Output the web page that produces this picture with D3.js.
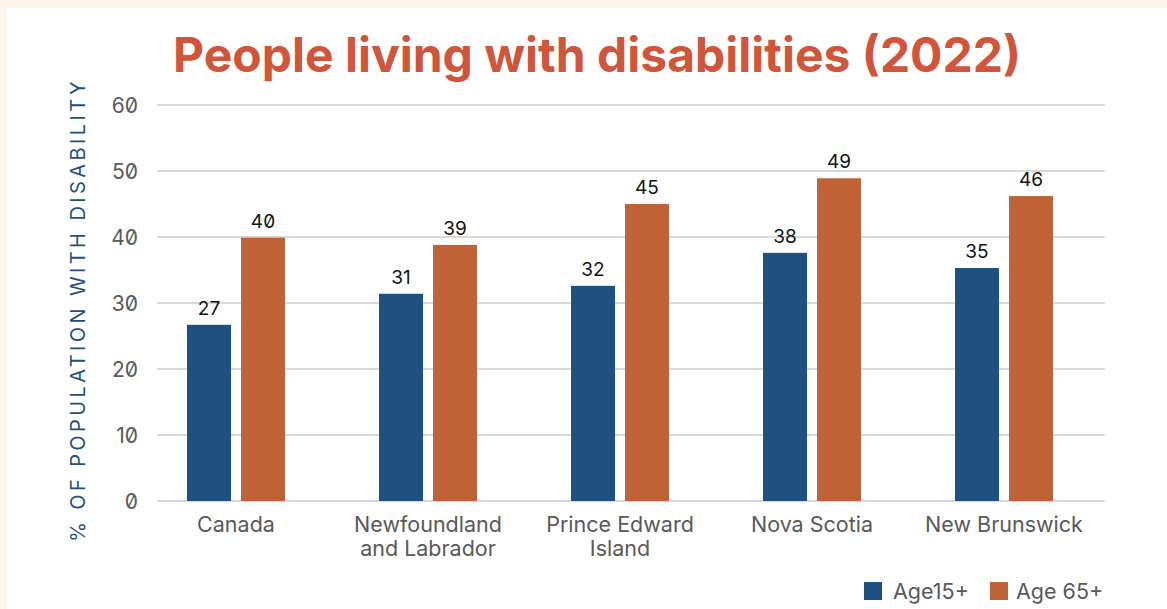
<!DOCTYPE html>
<html>
<head>
<meta charset="utf-8">
<script src="https://cdn.jsdelivr.net/npm/d3@7"></script>
<style>
  html, body { margin: 0; padding: 0; background: #fdf5ec; }
  svg { display: block; }
  .tick-num { font-family: Inter, "Liberation Sans", sans-serif; font-feature-settings: "zero" 1; }
</style>
</head>
<body>
<svg id="chart"></svg>
<script>
// chart data
const categories = [["Canada"], ["Newfoundland", "and Labrador"], ["Prince Edward", "Island"], ["Nova Scotia"], ["New Brunswick"]];
const seriesNames = ["Age15+", "Age 65+"];
const age15 = [26.7, 31.4, 32.6, 37.6, 35.3];
const age65 = [39.9, 38.8, 45.0, 48.9, 46.2];
const labels15 = ["27", "31", "32", "38", "35"];
const labels65 = ["40", "39", "45", "49", "46"];
const yTicks = [0, 10, 20, 30, 40, 50, 60];

const W = 1167, H = 609;
const colors = ["#1f5180", "#bf6236"];

const svg = d3.select('#chart')
    .attr('width', W)
    .attr('height', H);

// white panel inside the cream frame
svg.append('rect')
    .attr('x', 7).attr('y', 8)
    .attr('width', W - 7).attr('height', H - 8)
    .attr('fill', '#ffffff');

// scales
const keys = categories.map(c => c.join(' '));
const x0 = d3.scaleBand().domain(keys).range([140, 1100]);
const x1 = d3.scaleBand().domain(seriesNames).range([-49, 49]).paddingInner(0.185);
const y = d3.scaleLinear().domain([0, 60]).range([501, 105]);

// gridlines
svg.append('g')
    .selectAll('line')
    .data(yTicks)
    .join('line')
    .attr('x1', 157).attr('x2', 1105)
    .attr('y1', d => y(d)).attr('y2', d => y(d))
    .attr('stroke', '#d9d9d9')
    .attr('stroke-width', 2);

// y axis (labels only)
const yAxis = d3.axisLeft(y).tickValues(yTicks).tickSize(0).tickPadding(0);
const yAxisG = svg.append('g')
    .attr('transform', 'translate(138,0)')
    .call(yAxis);
yAxisG.select('.domain').remove();
yAxisG.selectAll('text')
    .attr('class', 'tick-num')
    .attr('fill', '#595959')
    .attr('font-size', 21)
    .attr('dy', '0.35em');

// bars
const rows = keys.map((k, i) => ({ key: k, vals: [age15[i], age65[i]], labs: [labels15[i], labels65[i]] }));
const groups = svg.append('g')
    .selectAll('g')
    .data(rows)
    .join('g')
    .attr('transform', d => `translate(${x0(d.key) + x0.bandwidth() / 2},0)`);

groups.selectAll('rect')
    .data(d => d.vals.map((v, j) => ({ s: seriesNames[j], v: v, j: j })))
    .join('rect')
    .attr('x', d => x1(d.s))
    .attr('width', x1.bandwidth())
    .attr('y', d => y(d.v))
    .attr('height', d => y(0) - y(d.v))
    .attr('fill', d => colors[d.j]);

groups.selectAll('text.val')
    .data(d => d.vals.map((v, j) => ({ s: seriesNames[j], v: v, lab: d.labs[j] })))
    .join('text')
    .attr('class', 'val tick-num')
    .attr('x', d => x1(d.s) + x1.bandwidth() / 2)
    .attr('y', d => y(d.v) - 10)
    .attr('text-anchor', 'middle')
    .attr('font-size', 19)
    .attr('fill', '#111111')
    .text(d => d.lab);

// category labels
const catLabels = svg.append('g')
    .selectAll('text')
    .data(categories)
    .join('text')
    .attr('x', (d, i) => x0(keys[i]) + x0.bandwidth() / 2)
    .attr('y', 532)
    .attr('text-anchor', 'middle')
    .attr('font-family', 'Inter, "Liberation Sans", sans-serif')
    .attr('font-size', 21.5)
    .attr('fill', '#595959');
catLabels.selectAll('tspan')
    .data(d => d)
    .join('tspan')
    .attr('x', function() { return this.parentNode.getAttribute('x'); })
    .attr('dy', (d, i) => i === 0 ? 0 : 24)
    .text(d => d);

// y axis title
svg.append('text')
    .attr('transform', 'translate(85,310) rotate(-90)')
    .attr('text-anchor', 'middle')
    .attr('font-family', 'Inter, "Liberation Sans", sans-serif')
    .attr('font-size', 20)
    .attr('letter-spacing', 3.4)
    .attr('fill', '#1f5180')
    .text('% OF POPULATION WITH DISABILITY');

// title
svg.append('text')
    .attr('x', 597)
    .attr('y', 72)
    .attr('text-anchor', 'middle')
    .attr('font-family', 'Inter, "Liberation Sans", sans-serif')
    .attr('font-weight', 700)
    .attr('font-size', 48)
    .attr('fill', '#d0553b')
    .text('People living with disabilities (2022)');

// legend
const legendX = [864, 990];
const legend = svg.append('g')
    .selectAll('g')
    .data(seriesNames)
    .join('g')
    .attr('transform', (d, i) => `translate(${legendX[i]},582)`);
legend.append('rect')
    .attr('width', 18).attr('height', 18)
    .attr('fill', (d, i) => colors[i]);
legend.append('text')
    .attr('x', (d, i) => i === 0 ? 29 : 26)
    .attr('y', 9)
    .attr('dy', '0.35em')
    .attr('font-family', 'Inter, "Liberation Sans", sans-serif')
    .attr('font-size', 21.5)
    .attr('fill', '#595959')
    .text(d => d);
</script>
</body>
</html>
